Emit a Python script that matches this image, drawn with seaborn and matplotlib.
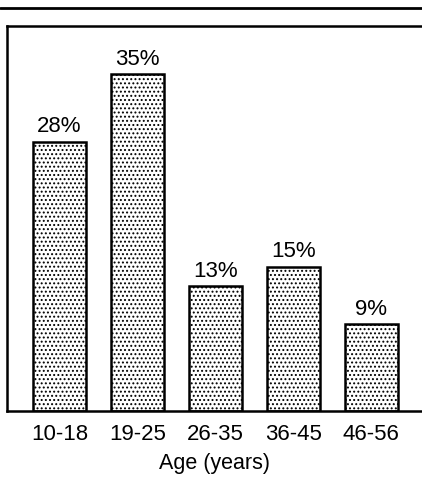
import matplotlib
matplotlib.use('Agg')
import matplotlib.pyplot as plt
import seaborn as sns
import pandas as pd
from matplotlib.lines import Line2D

ages = ['10-18', '19-25', '26-35', '36-45', '46-56']
pct = [28, 35, 13, 15, 9]

sns.set_style('white')
plt.rcParams['font.family'] = ['Liberation Sans', 'DejaVu Sans']
plt.rcParams['text.color'] = 'black'
plt.rcParams['axes.labelcolor'] = 'black'
plt.rcParams['xtick.color'] = 'black'
plt.rcParams['hatch.color'] = '#8c8c8c'
plt.rcParams['hatch.linewidth'] = 0.9

df = pd.DataFrame({'age': ages, 'pct': pct})

fig = plt.figure(figsize=(4.22, 4.79), dpi=100)
ax = fig.add_axes([7/422, 1 - 411/479, 1 - 7/422, (411 - 26)/479])
sns.barplot(data=df, x='age', y='pct', color='white', width=0.68,
            edgecolor='black', linewidth=1.8, saturation=1, ax=ax)
for p in ax.patches:
    p.set_hatch('....')

ax.bar_label(ax.containers[0], labels=[f'{v}%' for v in pct], padding=3,
             fontsize=16, color='black')

ax.set_ylim(0, 40)
ax.set_xlim(-0.673, 4.65)
ax.set_yticks([])
ax.set_ylabel('')
ax.set_xlabel('Age (years)', fontsize=15.5, labelpad=6, color='black')
ax.tick_params(axis='x', length=0, pad=9, labelsize=16, labelcolor='black')
for s in ['left', 'top', 'bottom']:
    ax.spines[s].set_color('black')
    ax.spines[s].set_linewidth(1.8)
ax.spines['right'].set_visible(False)

# rule across the top of the page
fig.add_artist(Line2D([0, 1], [1 - 8/479] * 2, transform=fig.transFigure, color='black', lw=2))

fig.savefig('out.png', dpi=100)
